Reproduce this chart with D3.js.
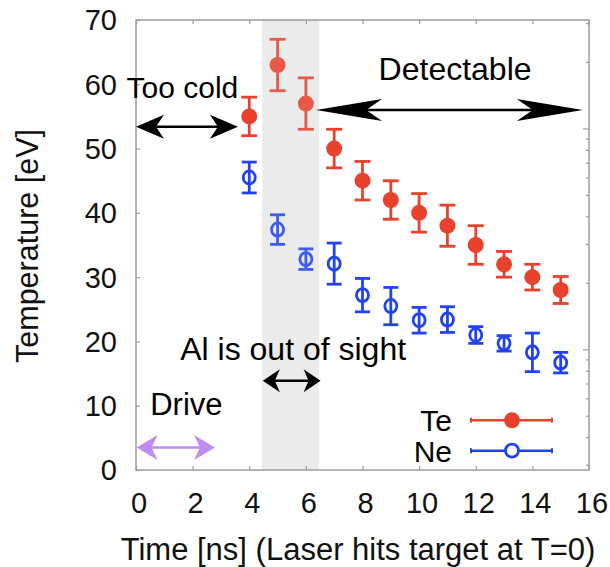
<!DOCTYPE html>
<html><head><meta charset="utf-8">
<script src="https://cdn.jsdelivr.net/npm/d3@7"></script>
<style>
html,body{margin:0;padding:0;background:#fff;}
svg{display:block;font-family:"Liberation Sans",Arial,Helvetica,sans-serif;}
</style></head>
<body><svg id="c" width="610" height="567"></svg>
<script>
// ---- data ----
const times = [4,5,6,7,8,9,10,11,12,13,14,15];
const teValues = [55,63,57,50,45,42,40,38,35,32,30,28];
const teErrors = [3,4,4,3,3,3,3,3.2,3,2,2,2.1];
const neValues = [45.5,37.4,32.8,32.1,27.2,25.5,23.3,23.4,21.0,19.7,18.3,16.7];
const neErrors = [2.4,2.3,1.6,3.2,2.6,2.9,2.0,2.0,1.3,1.2,3.0,1.6];
const xTicks = [0,2,4,6,8,10,12,14,16];
const yTicks = [0,10,20,30,40,50,60,70];
const seriesNames = ["Te","Ne"];
const bandRange = [4.46,6.47];
const arrowsData = [
  {name:"Too cold", x0:0, x1:3.6, y:53.4},
  {name:"Detectable", x0:6.36, x1:15.78, y:56.0},
  {name:"Al is out of sight", x0:4.48, x1:6.52, y:13.9},
  {name:"Drive", x0:0.02, x1:2.79, y:3.5}
];
const labelsData = [
  {text:"Too cold", x:1.64, y:57.8, size:30},
  {text:"Detectable", x:11.27, y:60.6, size:32},
  {text:"Al is out of sight", x:5.55, y:17.1, size:32},
  {text:"Drive", x:1.78, y:8.55, size:31}
];
// hidden right log axis, ticks only
const rightDomain = [0.284, 31];

// ---- layout ----
const L=136, R=589, T=20, B=470;
const svg = d3.select("#c");
const x = d3.scaleLinear().domain([0,16]).range([L,R]);
const y = d3.scaleLinear().domain([0,70]).range([B,T]);
const yR = d3.scaleLog().domain(rightDomain).range([B,T]);
const red = "#e8412c", blue = "#2143f5", frameCol = "#9c9c9c";

// band
svg.append("rect").attr("x",x(bandRange[0])).attr("y",T)
  .attr("width",x(bandRange[1])-x(bandRange[0])).attr("height",B-T)
  .attr("fill","#ebebeb");

// frame
svg.append("rect").attr("x",L).attr("y",T).attr("width",R-L).attr("height",B-T)
  .attr("fill","none").attr("stroke",frameCol).attr("stroke-width",1.5);

// axes (inward ticks)
const fs = 29;
svg.append("g").attr("transform",`translate(0,${B})`)
  .call(d3.axisTop(x).tickValues(xTicks).tickSize(4).tickFormat(""));
svg.append("g").attr("transform",`translate(0,${T})`)
  .call(d3.axisBottom(x).tickValues(xTicks).tickSize(4).tickFormat(""));
svg.append("g").attr("transform",`translate(${L},0)`)
  .call(d3.axisRight(y).tickValues(yTicks).tickSize(4).tickFormat(""));
const majors = [1,10];
const minors = [];
[0.1,1,10].forEach(d=>{for(let k=2;k<=9;k++){const v=d*k; if(v>=rightDomain[0]&&v<=rightDomain[1]) minors.push(v);}});
svg.append("g").attr("transform",`translate(${R},0)`)
  .call(d3.axisLeft(yR).tickValues(majors).tickSize(6).tickFormat(""));
svg.append("g").attr("transform",`translate(${R},0)`)
  .call(d3.axisLeft(yR).tickValues(minors).tickSize(3).tickFormat(""));
svg.selectAll(".domain").remove();
svg.selectAll(".tick line").attr("stroke",frameCol).attr("stroke-width",1.2);

// tick labels
svg.append("g").selectAll("text").data(xTicks).join("text")
  .attr("x",d=>x(d)+3).attr("y",513).attr("text-anchor","middle")
  .attr("font-size",fs).attr("fill","#111").text(d=>d);
svg.append("g").selectAll("text").data(yTicks).join("text")
  .attr("x",117).attr("y",d=>y(d)).attr("dy","0.36em").attr("text-anchor","end")
  .attr("font-size",fs).attr("fill","#111").text(d=>d);

// axis titles
svg.append("text").attr("x",358).attr("y",560).attr("text-anchor","middle")
  .attr("font-size",31).attr("fill","#111").text("Time [ns] (Laser hits target at T=0)");
svg.append("text").attr("transform",`translate(38,246) rotate(-90)`).attr("text-anchor","middle")
  .attr("font-size",30.5).attr("fill","#111").text("Temperature [eV]");

// arrows
function headPath(len, half, notch){
  return `M0,0 L${len},${-half} L${notch},0 L${len},${half} Z`;
}
const headSpecs = {
  "Too cold":{len:28,half:12,notch:20,col:"#000",w:2.5},
  "Detectable":{len:66,half:11,notch:50,col:"#000",w:2.5},
  "Al is out of sight":{len:17,half:11.5,notch:12,col:"#000",w:2.5},
  "Drive":{len:21,half:12.5,notch:15,col:"#c08cf3",w:2.5}
};
arrowsData.forEach(a=>{
  const s = headSpecs[a.name];
  const g = svg.append("g");
  const xa=x(a.x0), xb=x(a.x1), yy=y(a.y);
  g.append("line").attr("x1",xa+s.notch).attr("x2",xb-s.notch).attr("y1",yy).attr("y2",yy)
    .attr("stroke",s.col).attr("stroke-width",s.w);
  g.append("path").attr("d",headPath(s.len,s.half,s.notch)).attr("fill",s.col)
    .attr("transform",`translate(${xa},${yy})`);
  g.append("path").attr("d",headPath(s.len,s.half,s.notch)).attr("fill",s.col)
    .attr("transform",`translate(${xb},${yy}) scale(-1,1)`);
});

// labels
svg.append("g").selectAll("text").data(labelsData).join("text")
  .attr("x",d=>x(d.x)).attr("y",d=>y(d.y)).attr("text-anchor","middle")
  .attr("font-size",d=>d.size).attr("fill","#000").text(d=>d.text);

// data
const inBand = t => t>bandRange[0] && t<bandRange[1];
const te = times.map((t,i)=>({t,v:teValues[i],e:teErrors[i]}));
const ne = times.map((t,i)=>({t,v:neValues[i],e:neErrors[i]}));
function drawErr(data,col,cap){
  const g = svg.append("g");
  const gg = g.selectAll("g").data(data).join("g").attr("opacity",d=>inBand(d.t)?0.85:1);
  gg.append("line").attr("x1",d=>x(d.t)).attr("x2",d=>x(d.t))
    .attr("y1",d=>y(d.v-d.e)).attr("y2",d=>y(d.v+d.e)).attr("stroke",col).attr("stroke-width",2.8);
  gg.append("line").attr("x1",d=>x(d.t)-cap).attr("x2",d=>x(d.t)+cap)
    .attr("y1",d=>y(d.v+d.e)).attr("y2",d=>y(d.v+d.e)).attr("stroke",col).attr("stroke-width",2.8);
  gg.append("line").attr("x1",d=>x(d.t)-cap).attr("x2",d=>x(d.t)+cap)
    .attr("y1",d=>y(d.v-d.e)).attr("y2",d=>y(d.v-d.e)).attr("stroke",col).attr("stroke-width",2.8);
  return gg;
}
const gTe = drawErr(te,red,8);
gTe.append("circle").attr("cx",d=>x(d.t)).attr("cy",d=>y(d.v)).attr("r",8).attr("fill",red);
const gNe = drawErr(ne,blue,7.5);
gNe.append("ellipse").attr("cx",d=>x(d.t)).attr("cy",d=>y(d.v)).attr("rx",6).attr("ry",6.6)
  .attr("fill","none").attr("stroke",blue).attr("stroke-width",2.8);

// legend
const legY = [420.3, 450.7];
const legCol = [red, blue];
const leg = svg.append("g");
seriesNames.forEach((n,i)=>{
  leg.append("text").attr("x",452).attr("y",legY[i]).attr("dy","0.36em").attr("text-anchor","end")
    .attr("font-size",30).attr("fill","#000").text(n);
  leg.append("line").attr("x1",471).attr("x2",552).attr("y1",legY[i]).attr("y2",legY[i])
    .attr("stroke",legCol[i]).attr("stroke-width",2.5);
  [471,552].forEach(xx=>leg.append("line").attr("x1",xx).attr("x2",xx)
    .attr("y1",legY[i]-2.5).attr("y2",legY[i]+2.5).attr("stroke",legCol[i]).attr("stroke-width",2));
  if(i===0) leg.append("circle").attr("cx",512).attr("cy",legY[i]).attr("r",8).attr("fill",red);
  else leg.append("circle").attr("cx",512).attr("cy",legY[i]).attr("r",6.5).attr("fill","#fff")
    .attr("stroke",blue).attr("stroke-width",2.8);
});
</script></body></html>
